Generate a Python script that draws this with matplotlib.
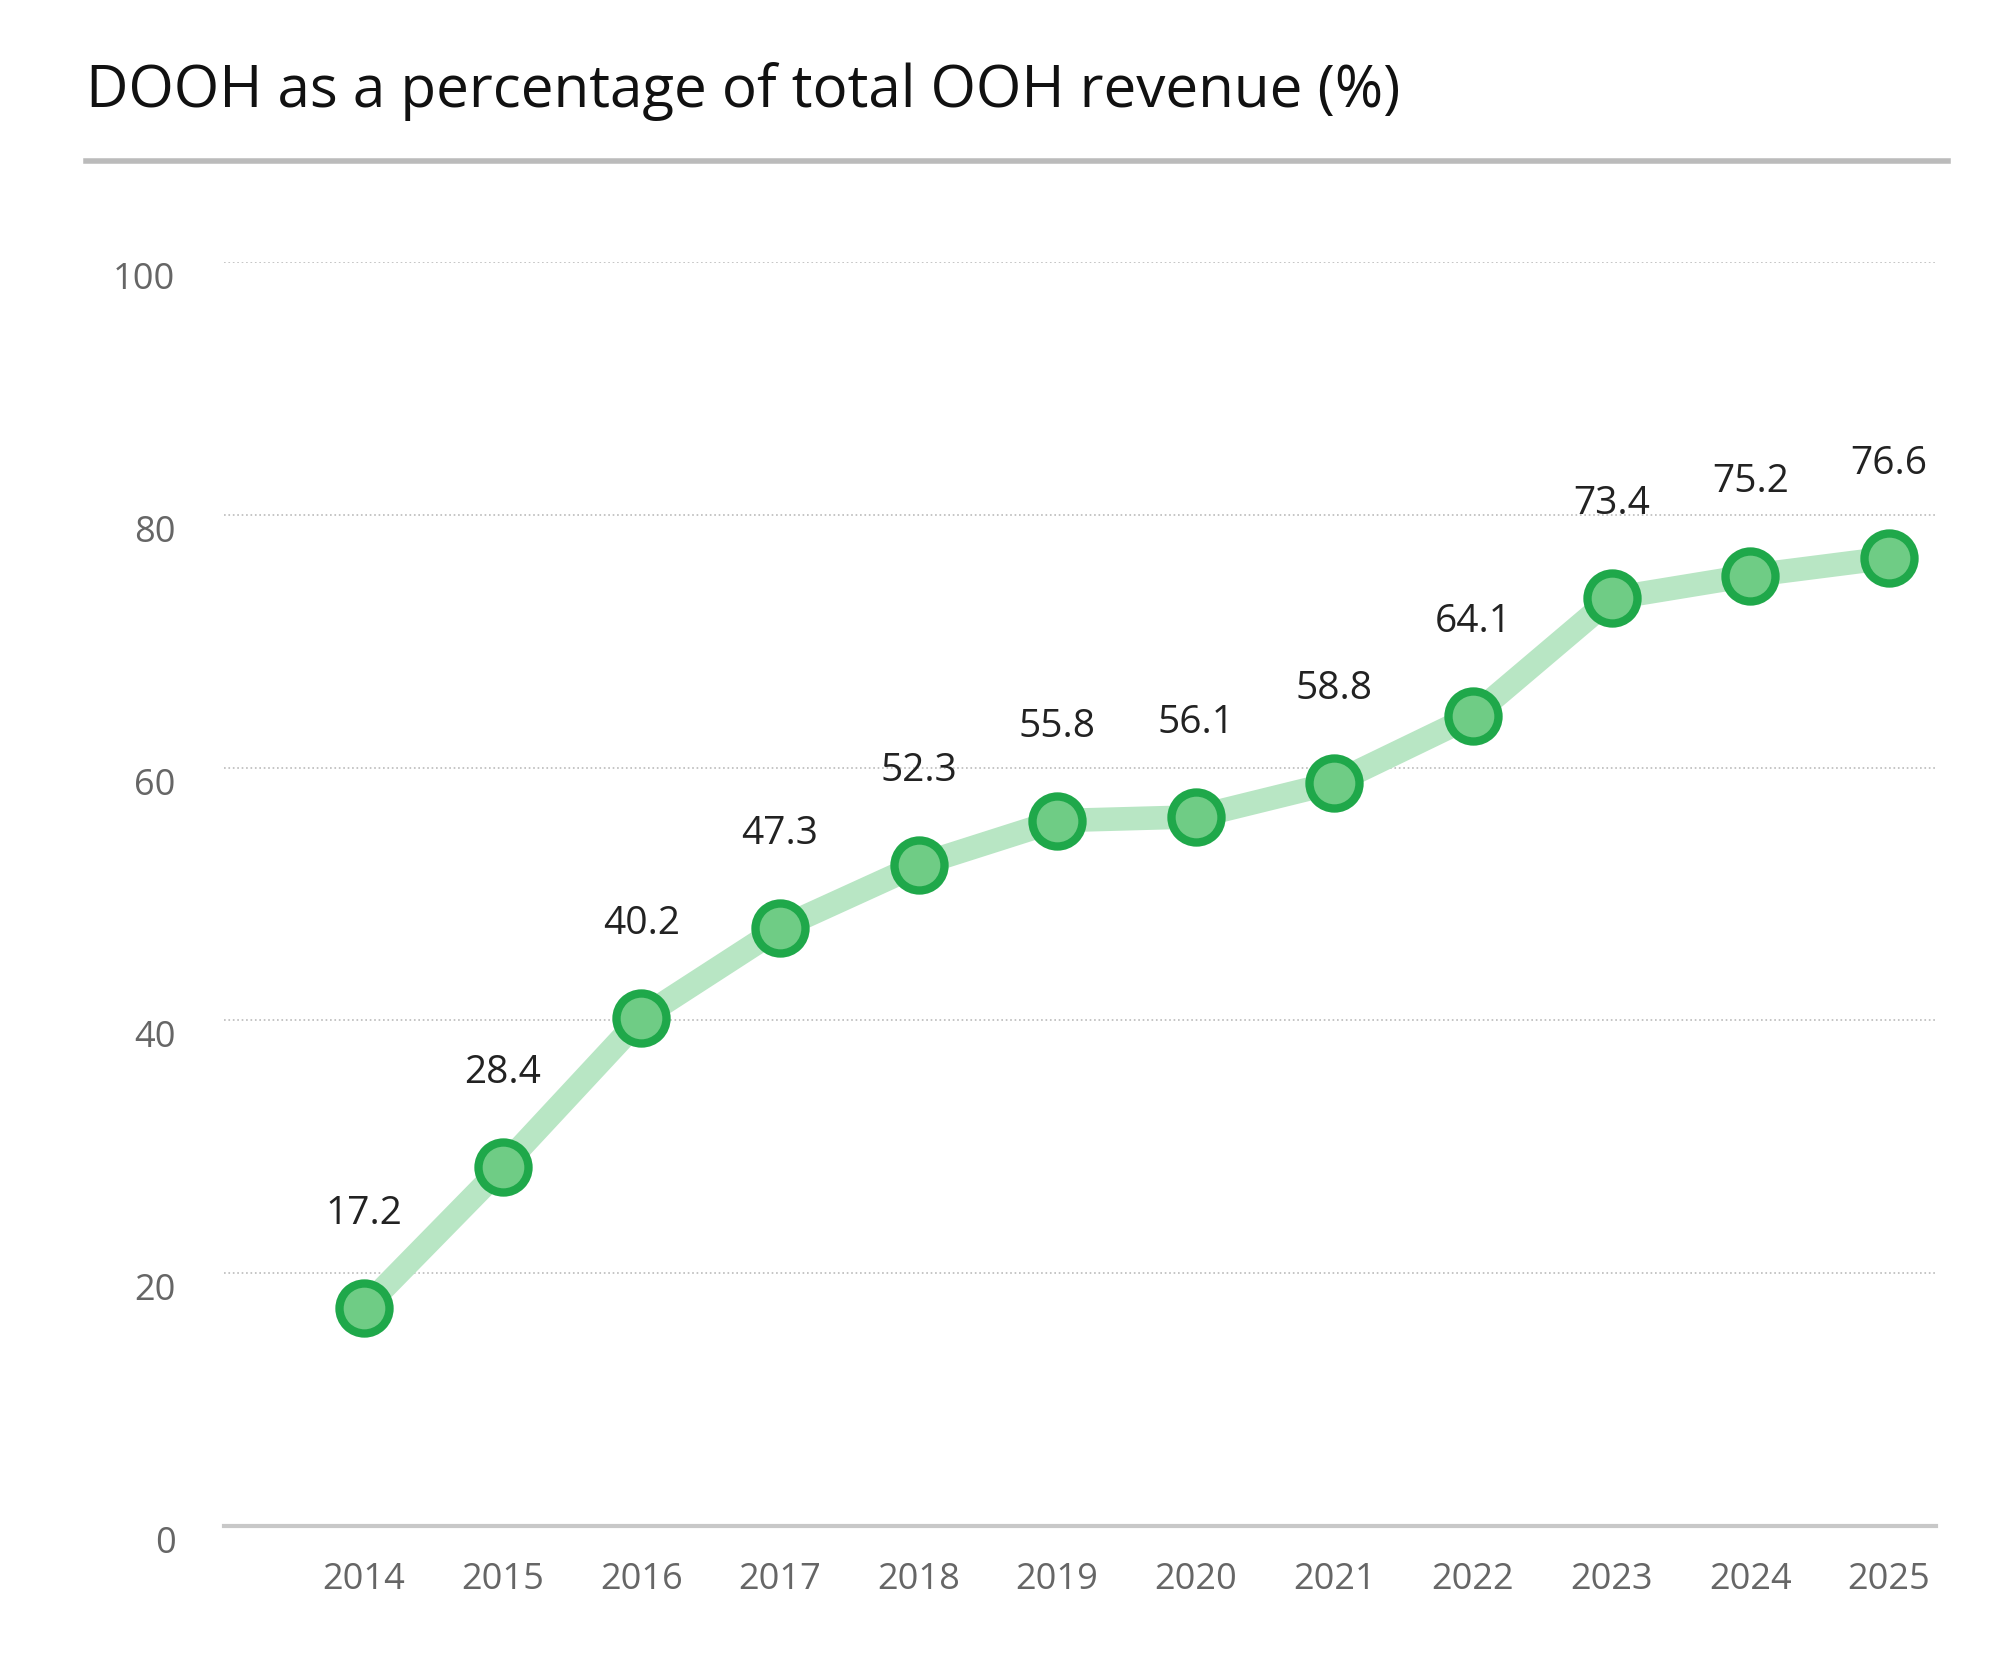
import matplotlib
matplotlib.use("Agg")
import matplotlib.pyplot as plt

years = [2014, 2015, 2016, 2017, 2018, 2019, 2020, 2021, 2022, 2023, 2024, 2025]
values = [17.2, 28.4, 40.2, 47.3, 52.3, 55.8, 56.1, 58.8, 64.1, 73.4, 75.2, 76.6]
yticks = [0, 20, 40, 60, 80, 100]

plt.rcParams['font.family'] = ['Open Sans', 'DejaVu Sans']
fig = plt.figure(figsize=(20, 16.6), dpi=100)
ax = fig.add_axes([0.112, 0.081, 0.862 - 0.006, 0.761])
ax.plot(years, values, color='#b8e6c4', lw=17, solid_capstyle='round', zorder=2)
ax.plot(years, values, 'o', ms=36, mfc='#6fcc85', mec='#1fa84a', mew=6, zorder=3)
for x, v in zip(years, values):
    ax.annotate(f"{v}", (x, v), xytext=(0, 54), textcoords='offset points',
                ha='center', va='bottom', fontsize=28, color='#222222')
ax.set_xlim(2012.99, 2025.34)
ax.set_ylim(0, 100)
ax.set_yticks(yticks)
ax.set_xticks(years)
ax.tick_params(length=0, labelsize=26, colors='#666666')
ax.tick_params(axis='x', pad=26)
ax.tick_params(axis='y', pad=35)
for lab in ax.get_yticklabels():
    lab.set_verticalalignment('top')
ax.grid(axis='y', linestyle=':', color='#bbbbbb', lw=1.2)
for s in ['top', 'right', 'left']:
    ax.spines[s].set_visible(False)
ax.spines['bottom'].set_color('#c8c8c8')
ax.spines['bottom'].set_linewidth(3)
fig.text(0.043, 0.945, "DOOH as a percentage of total OOH revenue (%)", fontsize=42,
         color='#111111', va='center', ha='left')
fig.add_artist(plt.Line2D([0.043, 0.974], [0.903, 0.903], color='#bbbbbb', lw=4))
fig.savefig("out.png", dpi=100, facecolor='white')
